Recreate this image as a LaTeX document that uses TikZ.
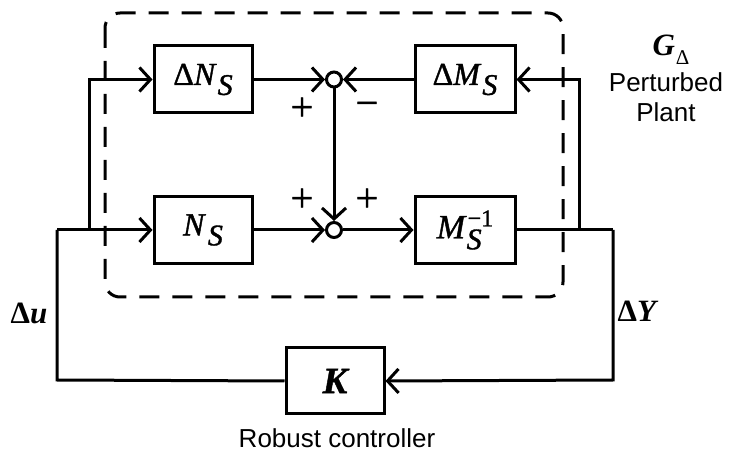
\documentclass[tikz,border=0pt]{standalone}
\usepackage{fontspec}
\setmainfont{Liberation Serif}
\newfontfamily\heavyserif[FakeBold=1.2]{Liberation Serif}
\newfontfamily\arial{Liberation Sans}
\usetikzlibrary{arrows.meta}
\begin{document}
\begin{tikzpicture}[x=1pt,y=-1pt,
  line width=3pt,
  blk/.style={draw, line width=3pt, minimum width=98pt, minimum height=67pt, inner sep=0pt, font=\heavyserif\fontsize{32}{34}\selectfont},
  sumc/.style={draw, circle, line width=3pt, minimum size=15pt, inner sep=0pt},
  arr/.style={-{Straight Barb[length=11pt,width=24pt]}},
  sgn/.style={font=\heavyserif\fontsize{40}{40}\selectfont, inner sep=0pt},
  lbl/.style={inner sep=0pt, font=\fontsize{31}{32}\selectfont\bfseries},
  sans/.style={inner sep=0pt, font=\arial\fontsize{26}{30}\selectfont},
  dashbox/.style={line width=3pt, dash pattern=on 20pt off 13pt, rounded corners=15pt}
]
\useasboundingbox (0,0) rectangle (729,454);

\draw[dashbox] (105,13) rectangle (563,297);

\node[blk] (dNS) at (203,79.5) {Δ\textit{N}\kern1pt\raisebox{-10pt}{\fontsize{30}{30}\selectfont\textit{S}}};
\node[blk, minimum width=100pt] (dMS) at (465,79.5) {Δ\textit{M}\kern1pt\raisebox{-10pt}{\fontsize{30}{30}\selectfont\textit{S}}};
\node[blk] (NS) at (203,230) {\textit{N}\kern2pt\raisebox{-10pt}{\fontsize{30}{30}\selectfont\textit{S}}};
\node[blk, minimum width=100pt] (MS) at (465,230) {\fontsize{34}{34}\selectfont\textit{M}\rlap{\raisebox{-11pt}{\fontsize{30}{30}\selectfont\textit{S}}}\kern1pt\raisebox{12pt}{\fontsize{24}{24}\selectfont −1}};
\node[blk, minimum width=98pt, minimum height=66pt] (K) at (335,381) {\fontsize{37}{37}\selectfont\bfseries\itshape K};

\node[sumc] (c1) at (334,79.5) {};
\node[sumc] (c2) at (334,230) {};

\coordinate (inL) at (57,230);
\coordinate (bL) at (89,230);
\coordinate (tL) at (89,79.5);
\coordinate (bR) at (579,230);
\coordinate (tR) at (579,79.5);
\coordinate (outR) at (613,230);
\coordinate (kR) at (613,380);
\coordinate (kL) at (57,380);

\draw[arr] (inL) -- (NS.west);
\draw[arr] (bL) -- (tL) -- (dNS.west);
\draw[arr] (dNS.east) -- (c1.west);
\draw[arr] (dMS.west) -- (c1.east);
\draw[arr] (c1.south) -- (c2.north);
\draw[arr] (NS.east) -- (c2.west);
\draw[arr] (c2.east) -- (MS.west);
\draw (MS.east) -- (outR);
\draw[arr] (bR) -- (tR) -- (dMS.east);
\draw[arr] (outR) -- (kR) -- (K.east);
\draw (K.west) -- (kL) -- (inL);

\node[sgn] (p1) at (302,109) {+};
\node[sgn] (m1) at (367,109) {−};
\node[sgn] (p2) at (302,200) {+};
\node[sgn] (p3) at (367,200) {+};

\node[lbl] (du) at (29,313) {Δ\textit{u}};
\node[lbl] (dY) at (638,311) {Δ\textit{Y}};
\node[lbl] (G) at (671,50) {\textit{G}\kern1pt\raisebox{-9pt}{\fontsize{21}{21}\selectfont\mdseries Δ}};
\node[sans, anchor=base] (pert) at (666,92) {Perturbed};
\node[sans, anchor=base] (plant) at (666,122) {Plant};
\node[sans, anchor=base] (rc) at (337,448) {Robust controller};
\end{tikzpicture}
\end{document}
